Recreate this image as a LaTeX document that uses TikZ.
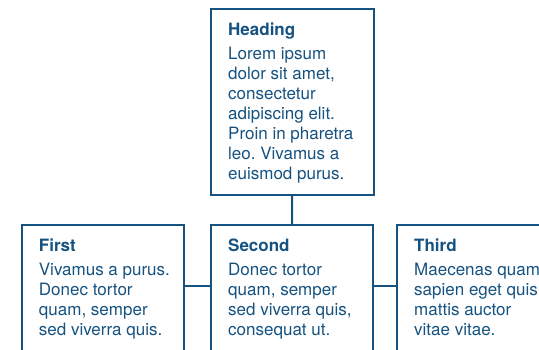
\documentclass[tikz,border=0pt]{standalone}
\usepackage{fontspec}
\setmainfont{TeX Gyre Heros}
\frenchspacing
\definecolor{navy}{RGB}{22,82,128}
\begin{document}
\begin{tikzpicture}[x=1pt,y=-1pt,
  box/.style={draw=navy, line width=2pt, rectangle, inner sep=0pt, anchor=north west},
  lowbox/.style={box, minimum width=162pt, minimum height=140pt},
  txt/.style={text=navy, align=left, inner sep=0pt, anchor=north west,
              font=\fontsize{17}{20}\selectfont},
  conn/.style={draw=navy, line width=2pt}]
\useasboundingbox (0,0) rectangle (539,349);

% boxes
\node[box, minimum width=162.5pt, minimum height=186.5pt] (heading) at (210,7.5) {};
\node[lowbox] (first)  at (20.7,224) {};
\node[lowbox] (second) at (210,224) {};
\node[lowbox] (third)  at (396,224) {};

% connectors
\draw[conn] (heading.south) -- (second.north);
\draw[conn] ([yshift=-62pt]first.north east) -- ([yshift=-62pt]second.north west);
\draw[conn] ([yshift=-62pt]second.north east) -- ([yshift=-62pt]third.north west);

% texts
\node[txt] (heading-text) at ([xshift=18pt,yshift=-14.8pt]heading.north west)
  {\textbf{Heading}\\[4pt]Lorem ipsum\\dolor sit amet,\\consectetur\\adipiscing elit.\\Proin in pharetra\\leo. Vivamus a\\euismod purus.};
\node[txt] (first-text) at ([xshift=18pt,yshift=-14.5pt]first.north west)
  {\textbf{First}\\[4pt]Vivamus a purus.\\Donec tortor\\quam, semper\\sed viverra quis.};
\node[txt] (second-text) at ([xshift=18pt,yshift=-14.5pt]second.north west)
  {\textbf{Second}\\[4pt]Donec tortor\\quam, semper\\sed viverra quis,\\consequat ut.};
\node[txt] (third-text) at ([xshift=18pt,yshift=-14.5pt]third.north west)
  {\textbf{Third}\\[4pt]Maecenas quam\\sapien eget quis\\mattis auctor\\vitae vitae.};
\end{tikzpicture}
\end{document}
